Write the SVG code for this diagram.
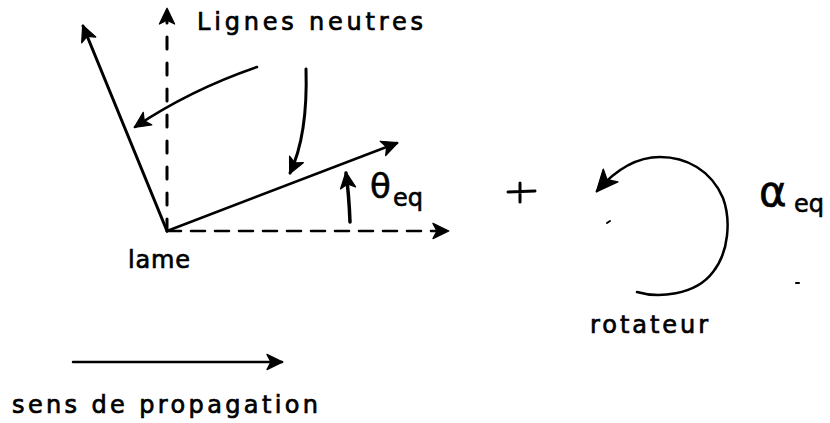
<svg xmlns="http://www.w3.org/2000/svg" width="830" height="423" viewBox="0 0 830 423">
<defs>
<style>
.ln{fill:none;stroke:#000;stroke-linecap:round}
.t{font-family:"DejaVu Sans","Verdana",sans-serif;font-size:24px;fill:#000;stroke:#000;stroke-width:0.7}
.h{font-family:"DejaVu Sans",sans-serif;fill:#000;stroke:#000;stroke-width:0.6}
</style>
<marker id="ah" viewBox="0 0 12 12" refX="10.5" refY="6" markerWidth="19" markerHeight="19" markerUnits="userSpaceOnUse" orient="auto">
<path d="M1,1.2 L11,6 L1,10.8 L3.5,6 Z" fill="#000" stroke="#000" stroke-width="0.8" stroke-linejoin="round"/>
</marker>
<marker id="ah2" viewBox="0 0 12 12" refX="10.5" refY="6" markerWidth="26" markerHeight="26" markerUnits="userSpaceOnUse" orient="auto">
<path d="M1,1.5 L11,6 L1,10.5 L3.5,6 Z" fill="#000" stroke="#000" stroke-width="0.6" stroke-linejoin="round"/>
</marker>
</defs>
<rect width="830" height="423" fill="#fff"/>
<g id="connectors">
<line class="ln" x1="167" y1="231" x2="167" y2="9" stroke-width="3" stroke-dasharray="12 14" marker-end="url(#ah)"/>
<line class="ln" x1="167" y1="231" x2="448" y2="231" stroke-width="2.5" stroke-dasharray="14 10" marker-end="url(#ah)"/>
<line class="ln" x1="167" y1="231" x2="83" y2="26" stroke-width="3" marker-end="url(#ah)"/>
<line class="ln" x1="167" y1="231" x2="397" y2="143" stroke-width="2.5" marker-end="url(#ah)"/>
<path class="ln" d="M257,67 Q190,90 135,127" stroke-width="2.5" marker-end="url(#ah)"/>
<path class="ln" d="M306,69 Q308,135 290,173" stroke-width="3" marker-end="url(#ah)"/>
<path class="ln" d="M350,222 Q349,195 346,173" stroke-width="3.5" marker-end="url(#ah)"/>
<path class="ln" d="M637,292 C657,298 695,296 713,272 C729,252 731,220 723,198 C711,170 686,157 660,157 C640,157 618,167 597,191" stroke-width="2.5" marker-end="url(#ah2)"/>
<line class="ln" x1="73" y1="362" x2="282" y2="362" stroke-width="2.5" marker-end="url(#ah)"/>
</g>
<g id="lignes-neutres"><text class="t" x="197" y="30" textLength="226">Lignes neutres</text></g>
<g id="lame"><text class="t" x="128" y="268" textLength="62">lame</text></g>
<g id="theta"><text class="h" x="370" y="198" font-size="34">θ</text><text class="h" x="393" y="206" font-size="24">eq</text></g>
<g id="plus"><path class="ln" d="M508,192 L535,191 M520,183 L520,202" stroke-width="3"/></g>
<g id="rotateur"><text class="t" x="590" y="333" textLength="118">rotateur</text></g>
<g id="alpha"><text class="h" x="759" y="206" font-size="42">α</text><text class="h" x="794" y="212" font-size="24">eq</text></g>
<g id="propagation"><text class="t" x="12" y="413" textLength="306">sens de propagation</text></g>
<g id="specks"><path class="ln" d="M607,223 L610,221 M796,283 L799,283" stroke-width="2"/></g>
</svg>
